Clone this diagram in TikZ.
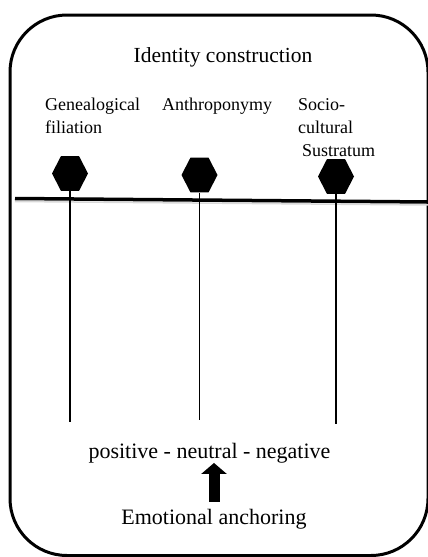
\documentclass[tikz,border=0pt]{standalone}
\usepackage{fontspec}
\setmainfont{Liberation Serif}
\usetikzlibrary{shapes.geometric,arrows.meta}
\begin{document}
\begin{tikzpicture}[x=1pt,y=-1pt,
  hex/.style={regular polygon, regular polygon sides=6, minimum size=36pt, inner sep=0pt, fill=black, draw=none, yscale=1.12},
  lbl/.style={anchor=base west, inner sep=0pt, align=left, font=\fontsize{18}{23}\selectfont},
  big/.style={anchor=base, inner sep=0pt, font=\fontsize{22}{24}\selectfont},
  stem/.style={line width=1.2pt},
  uparrow/.style={line width=11pt, -{Triangle[width=25pt,length=11pt]}}]
\useasboundingbox (0,0) rectangle (428,557);
% frame
\draw[line width=3pt, rounded corners=57pt] (10,15) rectangle (428,555.5);
% title
\node[anchor=base, inner sep=0pt, font=\fontsize{21.5}{24}\selectfont] (title) at (223,62) {Identity construction};
% labels (base anchor = baseline of last line)
\node[lbl] (gen) at (45,133) {Genealogical\\filiation};
\node[lbl] (ant) at (162,110) {Anthroponymy};
\node[lbl] (soc) at (298,156) {Socio-\\cultural\\\hspace{4pt}Sustratum};
% baseline bar
\draw[line width=1.5pt, black!15] (15,201.5) -- (430,205);
\draw[line width=3.5pt] (15,198.5) -- (430,202);
% hexagons
\node[hex] (h1) at (70,173.5) {};
\node[hex] (h2) at (199.5,175) {};
\node[hex] (h3) at (336,176.5) {};
\coordinate (e1) at (70,422);
\coordinate (e2) at (199.5,420);
\coordinate (e3) at (336,424);
\draw[stem] (h1.south) -- (e1);
\draw[stem] (h2.south) -- (e2);
\draw[stem] (h3.south) -- (e3);
% bottom
\node[big] (pnn) at (209.5,458) {positive - neutral - negative};
\node[big] (emo) at (214,524) {Emotional anchoring};
\draw[uparrow, shorten <=7pt] (emo.north) -- (emo.north |- pnn.south);
\end{tikzpicture}
\end{document}
